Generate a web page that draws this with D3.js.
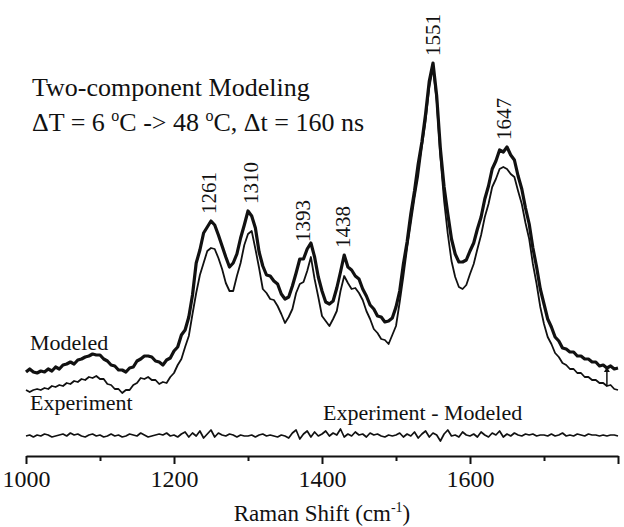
<!DOCTYPE html>
<html>
<head>
<meta charset="utf-8">
<script src="https://cdn.jsdelivr.net/npm/d3@7"></script>
<style>
  html, body { margin: 0; padding: 0; background: #fff; }
  svg { display: block; }
</style>
</head>
<body>
<svg id="chart" width="624" height="527" style="font-family:'Liberation Serif', serif"></svg>
<script>
// ---------------- data ----------------
// all spectra sampled every 5 cm-1 from 1000 to 1800
const specStart = 1000, specStep = 5;

const modeled = [
  84,87,84,83,85,84,87,85,89,87,91,92,94,92,96,97,99,100,102,101,
  101,97,95,91,90,86,86,84,88,89,95,97,100,100,99,95,94,91,96,98,
  105,109,121,126,139,161,193,206,223,229,235,231,221,210,199,189,193,202,218,231,
  245,240,228,204,190,181,180,175,172,162,157,159,170,183,197,197,207,213,199,179,
  165,154,152,155,168,184,201,189,186,180,177,167,160,151,147,140,139,134,135,138,
  149,165,192,214,242,265,292,314,342,375,393,360,307,269,242,217,202,194,194,196,
  205,213,227,239,257,270,287,295,306,304,309,301,296,280,267,248,232,208,189,167,
  152,137,129,119,115,108,107,104,104,100,100,97,97,94,94,90,91,88,90,87,
  88];

const experiment = [
  66,64,66,67,66,68,67,70,69,71,70,73,72,75,74,77,76,79,78,80,
  77,77,72,71,67,67,63,66,66,71,73,78,77,79,76,76,72,74,73,79,
  83,91,97,109,120,142,163,181,193,205,208,207,198,187,173,165,165,180,193,211,
  222,225,207,188,167,163,157,156,150,142,133,139,147,163,172,174,185,199,177,159,
  140,135,130,137,145,165,180,173,167,168,163,156,145,137,127,123,117,116,112,121,
  130,154,180,208,233,258,280,309,335,369,388,355,299,255,222,195,179,169,167,171,
  182,192,207,221,239,252,269,277,287,289,287,282,279,265,252,233,217,192,172,149,
  132,119,112,103,99,93,91,87,87,83,83,79,79,76,76,73,73,70,71,67,
  66];

// Experiment - Modeled residual
const residual = [
  20,21,19,21,20,22,21,19,20,21,22,20,23,21,22,20,19,21,22,20,
  21,19,20,22,20,21,19,20,22,21,20,23,21,19,20,21,22,21,23,20,
  21,19,22,24,19,23,20,25,18,22,26,19,23,21,20,22,21,19,21,20,
  20,21,19,21,22,20,21,20,19,21,20,18,23,26,17,22,25,19,24,20,
  22,25,20,23,21,27,19,22,20,24,21,22,19,23,21,22,20,19,21,20,
  21,23,19,22,20,24,18,22,25,19,23,21,15,22,26,20,21,19,24,21,
  20,22,19,24,21,19,23,21,25,19,22,20,23,21,20,22,21,22,20,21,
  21,20,22,20,21,23,20,21,20,22,21,20,22,21,21,20,21,20,21,21,
  20];

const peakLabels = ["1261","1310","1393","1438","1551","1647"];
const peakPositions = [1247,1303,1374,1428,1550,1645];

const majorTicks = [1000,1200,1400,1600,1800];
const majorTickLabels = ["1000","1200","1400","1600",""];
const minorTicks = [1100,1300,1500,1700];

const offsetArrow = [1785, 89, 70]; // wavenumber, modeled level, experiment level

// ---------------- drawing ----------------
const FONT = "'Liberation Serif', serif";
const svg = d3.select("#chart");
svg.append("rect").attr("width",624).attr("height",527).attr("fill","#fff");

const x = d3.scaleLinear().domain([1000,1800]).range([26,618]);
const y = d3.scaleLinear().domain([0,400]).range([456,56]);

const line = d3.line().x(d => x(d[0])).y(d => y(d[1])).curve(d3.curveLinear);
const toPts = arr => arr.map((v,i) => [specStart + i*specStep, v]);

svg.append("path").datum(toPts(experiment)).attr("d", line)
  .attr("fill","none").attr("stroke","#111").attr("stroke-width",1.8).attr("stroke-linejoin","round");
svg.append("path").datum(toPts(modeled)).attr("d", line)
  .attr("fill","none").attr("stroke","#111").attr("stroke-width",3.2).attr("stroke-linejoin","round");
svg.append("path").datum(toPts(residual)).attr("d", line)
  .attr("fill","none").attr("stroke","#111").attr("stroke-width",1.7).attr("stroke-linejoin","round");

function txt(sel) { return sel.style("font-family", FONT).attr("fill","#111"); }

// axis
const axis = d3.axisBottom(x).tickValues(majorTicks)
  .tickFormat((d,i) => majorTickLabels[i]).tickSize(8).tickSizeOuter(0).tickPadding(6);
const gx = svg.append("g").attr("transform","translate(0,456)").call(axis);
gx.select(".domain").attr("stroke","#111").attr("stroke-width",2);
gx.selectAll(".tick line").attr("stroke","#111").attr("stroke-width",2);
txt(gx.selectAll(".tick text")).attr("font-size",24);

const minorAxis = d3.axisBottom(x).tickValues(minorTicks).tickFormat("").tickSize(5).tickSizeOuter(0);
const gm = svg.append("g").attr("transform","translate(0,456)").call(minorAxis);
gm.select(".domain").remove();
gm.selectAll(".tick line").attr("stroke","#111").attr("stroke-width",2);

// axis title
const at = txt(svg.append("text")).attr("x",322).attr("y",521).attr("text-anchor","middle").attr("font-size",23);
at.append("tspan").text("Raman Shift (cm");
at.append("tspan").attr("font-size",14).attr("dy",-9).text("-1");
at.append("tspan").attr("dy",9).text(")");

// peak labels
peakLabels.forEach((lab,i) => {
  const p = peakPositions[i];
  let m = 0;
  modeled.forEach((v,j) => { if (Math.abs(specStart + j*specStep - p) <= 10) m = Math.max(m, v); });
  const px = x(p), py = y(m) - 7;
  txt(svg.append("text")).attr("transform",`translate(${px},${py}) rotate(-90)`)
    .attr("dy","0.35em").attr("font-size",21).text(lab);
});

// title lines
txt(svg.append("text")).attr("x",32).attr("y",96).attr("font-size",26).text("Two-component Modeling");
const t2 = txt(svg.append("text")).attr("x",32).attr("y",131).attr("font-size",26);
t2.append("tspan").text("\u0394T = 6 ");
t2.append("tspan").attr("font-size",16).attr("dy",-10).text("o");
t2.append("tspan").attr("dy",10).text("C -> 48 ");
t2.append("tspan").attr("font-size",16).attr("dy",-10).text("o");
t2.append("tspan").attr("dy",10).text("C, \u0394t = 160 ns");

// series labels
txt(svg.append("text")).attr("x",30).attr("y",350).attr("font-size",22).text("Modeled");
txt(svg.append("text")).attr("x",30).attr("y",410).attr("font-size",22).text("Experiment");
txt(svg.append("text")).attr("x",323).attr("y",420).attr("font-size",22).text("Experiment - Modeled");

// offset arrow
const ax = x(offsetArrow[0]), ay1 = y(offsetArrow[1]), ay2 = y(offsetArrow[2]);
svg.append("line").attr("x1",ax).attr("x2",ax).attr("y1",ay1+1).attr("y2",ay2)
  .attr("stroke","#111").attr("stroke-width",1.5);
svg.append("path").attr("d",`M${ax-3},${ay1+5}L${ax},${ay1}L${ax+3},${ay1+5}Z`).attr("fill","#111");
</script>
</body>
</html>
